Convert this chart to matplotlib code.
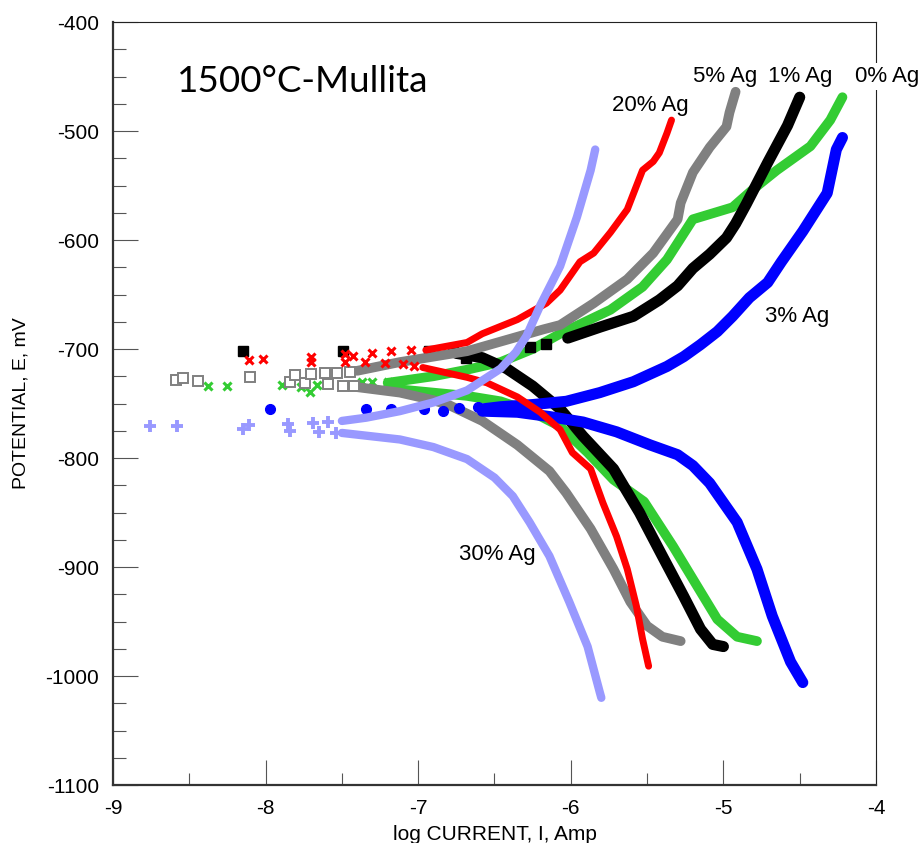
import numpy as np
import matplotlib
matplotlib.use("Agg")
import matplotlib.pyplot as plt

# Tafel curves, log I (A) vs E (mV), one anodic and one cathodic branch per alloy,
# plus the scattered points recorded close to the corrosion potential.

# 0% Ag
ag0_scatter = [(-8.38, -734), (-8.25, -734), (-7.89, -733), (-7.77, -735), (-7.71, -739),
               (-7.66, -733), (-7.49, -733), (-7.37, -730), (-7.30, -730), (-7.20, -730)]
ag0_anodic = [(-7.20, -731), (-6.90, -725), (-6.68, -719), (-6.46, -712), (-6.25, -700),
              (-6.07, -686), (-5.74, -664), (-5.53, -643), (-5.37, -618), (-5.20, -581),
              (-4.94, -570), (-4.81, -554), (-4.65, -536), (-4.43, -514), (-4.30, -490),
              (-4.22, -469)]
ag0_cathodic = [(-7.20, -736), (-6.68, -743), (-6.46, -748), (-6.25, -758), (-6.07, -771),
                (-5.89, -795), (-5.72, -820), (-5.52, -840), (-5.33, -881), (-5.17, -918),
                (-5.04, -948), (-4.91, -964), (-4.78, -968)]

# 1% Ag
ag1_scatter = [(-8.15, -702), (-7.49, -702), (-6.93, -702), (-6.77, -702), (-6.69, -708),
               (-6.27, -698), (-6.16, -695)]
ag1_anodic = [(-6.02, -690), (-5.81, -680), (-5.59, -670), (-5.42, -655), (-5.30, -642),
              (-5.20, -626), (-5.09, -613), (-4.98, -598), (-4.92, -585), (-4.85, -567),
              (-4.71, -529), (-4.58, -495), (-4.50, -469)]
ag1_cathodic = [(-6.75, -704), (-6.58, -708), (-6.42, -718), (-6.25, -734), (-6.07, -755),
                (-5.92, -780), (-5.72, -810), (-5.55, -850), (-5.40, -890),
                (-5.26, -927), (-5.15, -957), (-5.07, -971), (-5.00, -973)]

# 3% Ag
ag3_scatter = [(-7.97, -755), (-7.34, -755), (-7.18, -755), (-6.96, -755), (-6.84, -757),
               (-6.73, -754), (-6.61, -753)]
ag3_anodic = [(-6.58, -755), (-6.46, -753), (-6.25, -751), (-6.03, -748), (-5.81, -740),
              (-5.59, -730), (-5.37, -716), (-5.26, -707), (-5.15, -696), (-5.04, -684),
              (-4.94, -670), (-4.83, -653), (-4.71, -639), (-4.62, -620), (-4.48, -592),
              (-4.32, -557), (-4.26, -517), (-4.22, -506)]
ag3_cathodic = [(-6.58, -757), (-6.35, -758), (-6.14, -762), (-5.92, -767), (-5.70, -776),
                (-5.48, -788), (-5.30, -797), (-5.20, -807), (-5.09, -823), (-4.91, -859),
                (-4.78, -902), (-4.68, -945), (-4.56, -987), (-4.48, -1006)]

# 5% Ag
ag5_scatter = [(-8.59, -728), (-8.54, -727), (-8.44, -729), (-8.10, -726), (-7.84, -730),
               (-7.81, -724), (-7.74, -731), (-7.70, -723), (-7.61, -722), (-7.59, -732),
               (-7.53, -722), (-7.49, -734), (-7.45, -721), (-7.42, -734)]
ag5_anodic = [(-7.40, -720), (-7.12, -712), (-6.90, -707), (-6.68, -702), (-6.48, -694),
              (-6.18, -682), (-6.07, -678), (-5.85, -658), (-5.63, -636), (-5.46, -612),
              (-5.30, -581), (-5.28, -566), (-5.20, -538), (-5.09, -515), (-4.98, -496),
              (-4.96, -483), (-4.92, -464)]
ag5_cathodic = [(-7.40, -735), (-7.12, -740), (-6.90, -747), (-6.79, -752), (-6.58, -766),
                (-6.35, -788), (-6.14, -812), (-6.03, -832), (-5.87, -865), (-5.72, -902),
                (-5.61, -932), (-5.50, -954), (-5.40, -964), (-5.28, -968)]

# 20% Ag
ag20_scatter = [(-8.11, -710), (-8.02, -709), (-7.70, -707), (-7.70, -712), (-7.48, -705),
                (-7.48, -712), (-7.43, -706), (-7.35, -712), (-7.30, -704), (-7.22, -713),
                (-7.18, -702), (-7.10, -714), (-7.05, -701), (-7.03, -716)]
ag20_anodic = [(-6.95, -701), (-6.68, -694), (-6.58, -686), (-6.35, -673), (-6.16, -658),
               (-6.07, -646), (-5.94, -620), (-5.85, -612), (-5.74, -593), (-5.63, -572),
               (-5.53, -536), (-5.46, -528), (-5.42, -520), (-5.37, -502), (-5.34, -490)]
ag20_cathodic = [(-6.97, -717), (-6.68, -726), (-6.55, -731), (-6.35, -744), (-6.20, -758),
                 (-6.07, -774), (-5.99, -795), (-5.87, -810), (-5.79, -841), (-5.70, -872),
                 (-5.63, -902), (-5.57, -936), (-5.53, -966), (-5.49, -991)]

# 30% Ag
ag30_scatter = [(-8.76, -771), (-8.58, -771), (-8.15, -773), (-8.11, -770), (-7.85, -769),
                (-7.84, -775), (-7.69, -768), (-7.65, -776), (-7.59, -767), (-7.54, -777)]
ag30_anodic = [(-7.50, -766), (-7.34, -763), (-7.12, -757), (-6.90, -749), (-6.68, -738),
               (-6.46, -718), (-6.36, -703), (-6.29, -688), (-6.20, -660), (-6.07, -624),
               (-5.96, -579), (-5.87, -536), (-5.84, -517)]
ag30_cathodic = [(-7.50, -777), (-7.12, -783), (-6.90, -790), (-6.68, -801), (-6.50, -818),
                 (-6.38, -835), (-6.27, -859), (-6.14, -890), (-6.01, -932), (-5.89, -973),
                 (-5.81, -1015), (-5.80, -1020)]

series = [
    # colour, marker, scatter, anodic, cathodic, line width (pt), filled marker
    ("#33CC33", "x", ag0_scatter, ag0_anodic, ag0_cathodic, 7, True),
    ("black", "s", ag1_scatter, ag1_anodic, ag1_cathodic, 8, True),
    ("#808080", "s", ag5_scatter, ag5_anodic, ag5_cathodic, 7, False),
    ("#0000FF", "o", ag3_scatter, ag3_anodic, ag3_cathodic, 8, True),
    ("#FF0000", "x", ag20_scatter, ag20_anodic, ag20_cathodic, 5, True),
    ("#9999FF", "+", ag30_scatter, ag30_anodic, ag30_cathodic, 6, True),
]

# label text, left x, baseline y (data units)
curve_labels = [
    ("20% Ag", -5.73, -482),
    ("5% Ag", -5.20, -455),
    ("1% Ag", -4.71, -455),
    ("0% Ag", -4.14, -455),
    ("3% Ag", -4.73, -675),
    ("30% Ag", -6.73, -894),
]

fig = plt.figure(figsize=(9.2, 8.43), dpi=100)
ax = fig.add_axes([0.1228, 0.0688, 0.8294, 0.9051])

for z, (col, mk, sc, an, ca, lw, filled) in enumerate(series):
    for branch in (an, ca):
        xy = np.array(branch)
        ax.plot(xy[:, 0], xy[:, 1], color=col, lw=lw, solid_capstyle="round",
                solid_joinstyle="round", zorder=2 + z)
    xy = np.array(sc)
    if mk == "x":
        ax.plot(xy[:, 0], xy[:, 1], ls="none", marker="x", ms=6, mew=2.2, color=col, zorder=2 + z)
    elif mk == "+":
        ax.plot(xy[:, 0], xy[:, 1], ls="none", marker="+", ms=8, mew=2.8, color=col, zorder=2 + z)
    elif filled:
        ax.plot(xy[:, 0], xy[:, 1], ls="none", marker=mk, ms=7, color=col, mec=col, zorder=2 + z)
    else:
        ax.plot(xy[:, 0], xy[:, 1], ls="none", marker=mk, ms=7, mfc="white", mec=col,
                mew=1.4, zorder=2 + z)

ax.set_xlim(-9, -4)
ax.set_ylim(-1100, -400)
ax.set_xticks(np.arange(-9, -3.5, 1))
ax.set_xticks(np.arange(-8.5, -4, 1), minor=True)
ax.set_yticks(np.arange(-1100, -399, 100))
ax.set_yticks(np.arange(-1075, -400, 25), minor=True)
ax.set_xticklabels([str(v) for v in range(-9, -3)])
ax.set_yticklabels([str(v) for v in range(-1100, -399, 100)])

ax.tick_params(which="both", direction="in", top=False, right=False, color="#555555",
               width=0.8, labelsize=15)
ax.tick_params(which="major", length=18)
ax.tick_params(which="minor", length=9)
ax.tick_params(axis="x", pad=10)
ax.tick_params(axis="y", pad=10)
for lab in ax.get_xticklabels() + ax.get_yticklabels():
    lab.set_fontfamily("Liberation Sans")

for side in ("left", "bottom"):
    ax.spines[side].set_linewidth(1.6)
    ax.spines[side].set_color("#333333")
for side in ("top", "right"):
    ax.spines[side].set_linewidth(0.8)
    ax.spines[side].set_color("#222222")

ax.set_xlabel("log CURRENT, I, Amp", fontsize=15, family="Liberation Sans")
ax.xaxis.set_label_coords(0.5, -0.053)
ax.set_ylabel("POTENTIAL, E, mV", fontsize=14, family="Liberation Sans", va="center")
ax.yaxis.set_label_coords(-0.12, 0.5)

ax.text(-8.58, -464, "1500°C-Mullita", fontsize=26.5, family=["Lato", "DejaVu Sans"],
        ha="left", va="baseline", zorder=20)

for txt, x, y in curve_labels:
    t = ax.text(x, y, txt, fontsize=16, family="Liberation Sans",
                ha="left", va="baseline", zorder=20, clip_on=False)
    if txt == "0% Ag":
        t.set_bbox(dict(facecolor="white", edgecolor="none", pad=2))

fig.savefig("out.png", dpi=100)
